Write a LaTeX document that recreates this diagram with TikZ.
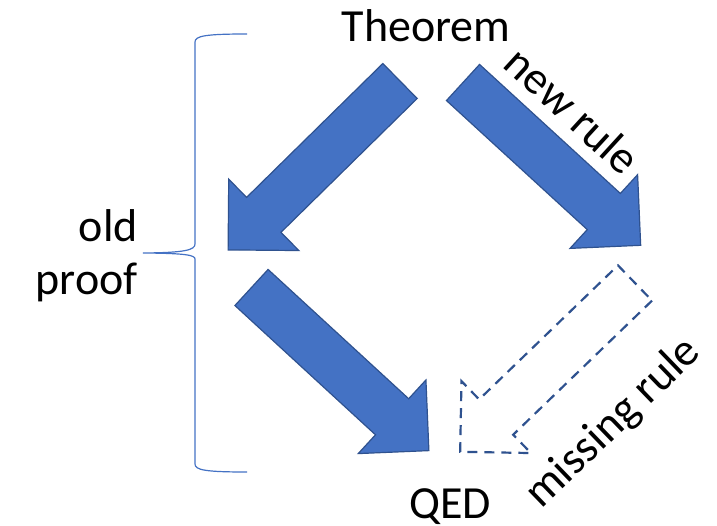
\documentclass[tikz,border=0pt]{standalone}
\usepackage{fontspec}
\setmainfont{Carlito}
\usetikzlibrary{positioning}
\definecolor{accblue}{HTML}{4472C4}
\definecolor{accdark}{HTML}{2F528F}

\begin{document}
\begin{tikzpicture}[x=1pt, y=-1pt,
  every node/.style={font=\fontsize{46}{53}\selectfont, inner sep=0pt},
  blockarrow/.style={fill=accblue, draw=accdark, line width=1.2pt},
  ghostarrow/.style={draw=accdark, line width=2.2pt, dash pattern=on 10pt off 7pt}]
\useasboundingbox (0,0) rectangle (717,526);

% --- labels ---
\node[anchor=base] (thm) at (426,42) {Theorem};
\node[anchor=base] (qed) at (450,518) {QED};
\node[anchor=base east, align=right] (oldproof) at (138,295) {old\\proof};
\node[anchor=base, rotate=-42.5] (newrule) at (562,122) {new rule};
\node[anchor=base, rotate=44] (missrule) at (622,432) {missing rule};

% --- old proof, first step ---
\begin{scope}[shift={(400,81)}, rotate=224.5]
  \draw[blockarrow] (0,-24.5) -- (191,-24.5) -- (191,-50) -- (241,0) -- (191,50) -- (191,24.5) -- (0,24.5) -- cycle;
\end{scope}

% --- new rule ---
\begin{scope}[shift={(463,82.5)}, rotate=-42.5]
  \draw[blockarrow] (0,-24.5) -- (191,-24.5) -- (191,-50) -- (241,0) -- (191,50) -- (191,24.5) -- (0,24.5) -- cycle;
\end{scope}

% --- old proof, second step ---
\begin{scope}[shift={(251.5,287.5)}, rotate=-42.6]
  \draw[blockarrow] (0,-24.5) -- (191,-24.5) -- (191,-50) -- (241,0) -- (191,50) -- (191,24.5) -- (0,24.5) -- cycle;
\end{scope}

% --- missing rule (dashed outline) ---
\begin{scope}[shift={(635,283)}, rotate=224]
  \draw[ghostarrow] (0,-24.5) -- (193,-24.5) -- (193,-50) -- (243,0) -- (193,50) -- (193,24.5) -- (0,24.5) -- cycle;
\end{scope}

% brace round the old proof
\draw[accblue, line width=1.2pt] (247,34) .. controls (205,34) and (195,36) .. (195,42) -- (195,244)
  .. controls (195,250) and (185,252.7) .. (143,253) .. controls (185,253.3) and (195,255) .. (195,259)
  -- (195,464) .. controls (195,470) and (205,472) .. (247,472);

\end{tikzpicture}
\end{document}
